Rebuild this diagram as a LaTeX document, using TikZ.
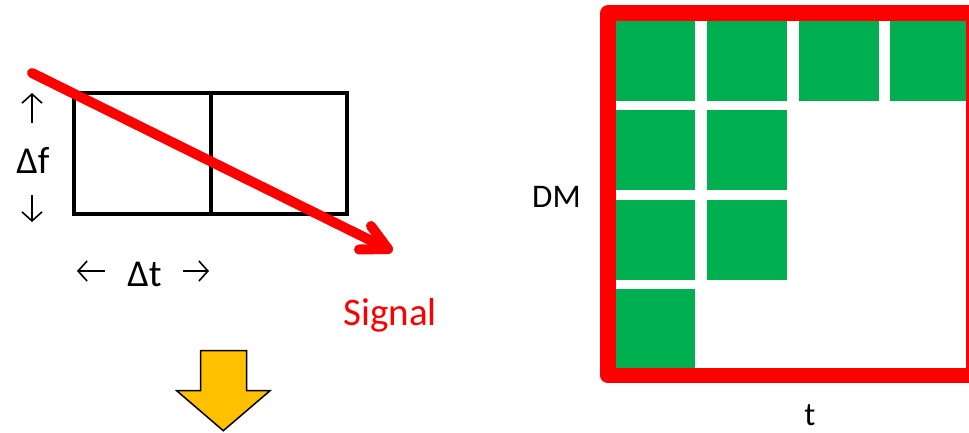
\documentclass[tikz,border=0pt]{standalone}
\usepackage{fontspec}
\setmainfont{Carlito}
\usetikzlibrary{arrows.meta,calc}
\definecolor{sigred}{HTML}{FF0000}
\definecolor{dmgreen}{HTML}{00B050}
\definecolor{arrowgold}{HTML}{FFC000}
\tikzset{
  cell/.style={draw=black, line width=4pt, inner sep=0pt, outer sep=0pt, minimum width=136.5pt, minimum height=121.3pt, anchor=north west},
  gsq/.style={fill=dmgreen, inner sep=0pt, outer sep=0pt, minimum width=79.8pt, minimum height=80pt, anchor=north west},
  thinarrow/.style={line width=1.6pt, -{Straight Barb[length=9pt,width=20pt,line width=1.6pt]}},
  bigtext/.style={font=\fontsize{38}{45}\selectfont, inner sep=0pt, anchor=base},
  midtext/.style={font=\fontsize{33}{40}\selectfont, inner sep=0pt, anchor=base},
  sigline/.style={draw=sigred, line width=10pt, line cap=round, line join=round},
}
\begin{document}
\begin{tikzpicture}[x=1pt,y=-1pt]
\useasboundingbox (0,0) rectangle (969,432);
\clip (0,0) rectangle (969,432);
% left time-frequency cells
\node[cell] (c1) at (74,92.7) {};
\node[cell] (c2) at (210.5,92.7) {};
% Delta f with arrows
\coordinate (fupa) at (32,123);
\coordinate (fupb) at (32,93);
\coordinate (fdna) at (32,195);
\coordinate (fdnb) at (32,222);
\draw[thinarrow] (fupa) -- (fupb);
\draw[thinarrow] (fdna) -- (fdnb);
\node[bigtext] (df) at (33,173) {Δf};
% Delta t with arrows
\coordinate (tla) at (105,271);
\coordinate (tlb) at (77,271);
\coordinate (tra) at (183,271);
\coordinate (trb) at (209,271);
\draw[thinarrow] (tla) -- (tlb);
\draw[thinarrow] (tra) -- (trb);
\node[bigtext] (dt) at (144.5,286) {Δt};
% signal arrow
\coordinate (s0) at (32,73);
\coordinate (st) at (388,249);
\coordinate (sa1) at (359,249.5);
\coordinate (sa2) at (371,226);
\draw[sigline] (s0) -- (st);
\draw[sigline] (sa1) -- (st) -- (sa2);
\node[bigtext, text=sigred, font=\fontsize{39}{46}\selectfont] (sig) at (390,325) {Signal};
% yellow down arrow
\draw[fill=arrowgold, draw=black, line width=1.5pt, line join=miter]
  (200.7,350.7) -- (246.7,350.7) -- (246.7,390.7) -- (270,390.7) -- (223.3,430.7)
  -- (176.7,390.7) -- (200.7,390.7) -- cycle;
% green DM-time squares
\node[gsq] (g11) at (615,21) {};
\node[gsq] (g12) at (707,21) {};
\node[gsq] (g13) at (798.7,21) {};
\node[gsq, minimum width=85pt] (g14) at (890,21) {};
\node[gsq] (g21) at (615,110) {};
\node[gsq] (g22) at (707,110) {};
\node[gsq] (g31) at (615,199.5) {};
\node[gsq] (g32) at (707,199.5) {};
\node[gsq] (g41) at (615,288.5) {};
% red frame
\node[draw=sigred, line width=15.5pt, inner sep=0pt, outer sep=0pt, minimum width=366pt, minimum height=362.5pt, anchor=north west, line join=round] (frame) at (608,13) {};
% axis labels
\node[midtext] (dm) at (556.5,207) {DM};
\node[midtext] (t) at (810,425) {t};
\end{tikzpicture}
\end{document}
